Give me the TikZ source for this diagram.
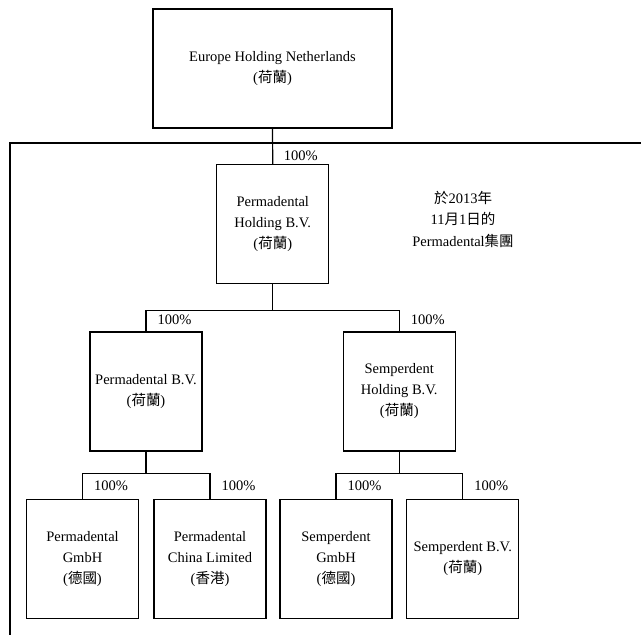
\documentclass[tikz,border=0pt]{standalone}
\usepackage{fontspec}
\setmainfont{Liberation Serif}
\newfontfamily\cjk{Noto Sans CJK TC}
\newcommand{\zh}[1]{{\cjk #1}}

\begin{document}
\begin{tikzpicture}[x=1pt,y=-1pt,line width=1.2pt,
    entity/.style={draw,minimum width=112pt,minimum height=119pt,align=center,
      inner sep=2pt,font=\fontsize{14.5}{21}\selectfont},
    share/.style={anchor=base west,inner sep=0pt,font=\fontsize{14.5}{16}\selectfont}]
  \useasboundingbox (0,0) rectangle (641,635);

  % Group frame
  \draw (641,143) -| (10,635);

  % Parent company
  \node[entity,minimum width=239pt] (ehn) at (272.5,68.5)
    {Europe Holding Netherlands\\(\zh{荷蘭})};

  % Holding level
  \node[entity] (phbv) at (272.75,224) {Permadental\\Holding B.V.\\(\zh{荷蘭})};
  \node[entity] (pbv)  at (146,391.5)  {Permadental B.V.\\(\zh{荷蘭})};
  \node[entity] (shbv) at (399.25,391.5) {Semperdent\\Holding B.V.\\(\zh{荷蘭})};

  % Operating subsidiaries
  \node[entity] (pgmbh) at (82.5,559)   {Permadental\\GmbH\\(\zh{德國})};
  \node[entity] (pcl)   at (210,559)    {Permadental\\China Limited\\(\zh{香港})};
  \node[entity] (sgmbh) at (336,559)    {Semperdent\\GmbH\\(\zh{德國})};
  \node[entity] (sbv)   at (462.75,559) {Semperdent B.V.\\(\zh{荷蘭})};

  % Group note
  \node[align=center,font=\fontsize{14.5}{21.5}\selectfont] (note) at (463,219)
    {\zh{於}2013\zh{年}\\11\zh{月}1\zh{日的}\\Permadental\zh{集團}};

  % Ownership lines
  \draw (ehn.south) -- (phbv.north);
  \draw (phbv.south) -- ++(0,26) -| (pbv.north);
  \draw (phbv.south) -- ++(0,26) -| (shbv.north);
  \draw (pbv.south) -- ++(0,22) -| (pgmbh.north);
  \draw (pbv.south) -- ++(0,22) -| (pcl.north);
  \draw (shbv.south) -- ++(0,22) -| (sgmbh.north);
  \draw (shbv.south) -- ++(0,22) -| (sbv.north);

  % Shareholding labels
  \node[share] (s1) at ([xshift=10.5pt,yshift=3.5pt]phbv.north) {100\%};
  \foreach \nm in {pbv,shbv}{
    \node[share] (s-\nm) at ([xshift=11pt,yshift=7pt]\nm.north) {100\%};
  }
  \foreach \nm in {pgmbh,pcl,sgmbh,sbv}{
    \node[share] (s-\nm) at ([xshift=11pt,yshift=8pt]\nm.north) {100\%};
  }
\end{tikzpicture}
\end{document}
